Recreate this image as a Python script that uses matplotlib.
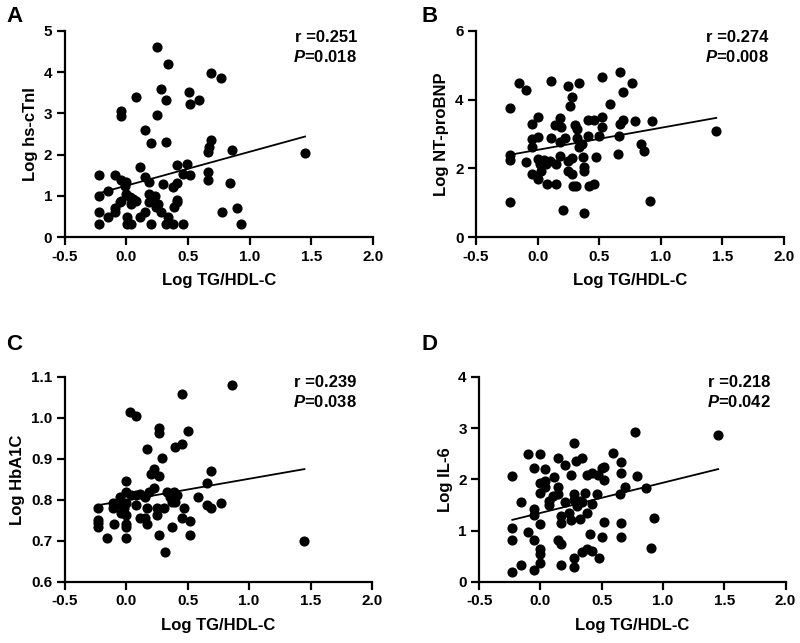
import matplotlib
matplotlib.use("Agg")
import matplotlib.pyplot as plt
import numpy as np

plt.rcParams['font.family'] = ['Liberation Sans', 'DejaVu Sans']
plt.rcParams['font.weight'] = 'bold'
plt.rcParams['mathtext.fontset'] = 'custom'
plt.rcParams['mathtext.it'] = 'Liberation Sans:bold:italic'
plt.rcParams['mathtext.rm'] = 'Liberation Sans:bold'

# panel A: hs-cTnI
a_x = [-0.22, -0.22, -0.22, -0.22, -0.15, -0.15, -0.095, -0.095, -0.095, -0.046,
       -0.046, -0.046, -0.046, -0.054, -0.014, 0.0, 0.0, 0.005, 0.005, 0.03,
       0.04, 0.04, 0.05, 0.08, 0.08, 0.11, 0.11, 0.15, 0.15, 0.15,
       0.18, 0.18, 0.18, 0.20, 0.20, 0.23, 0.24, 0.25, 0.25, 0.28,
       0.26, 0.28, 0.30, 0.32, 0.32, 0.32, 0.34, 0.34, 0.38, 0.38,
       0.39, 0.41, 0.41, 0.41, 0.41, 0.46, 0.46, 0.49, 0.51, 0.52,
       0.52, 0.59, 0.66, 0.66, 0.66, 0.67, 0.69, 0.69, 0.77, 0.78,
       0.84, 0.86, 0.90, 0.93, 1.45]
a_y = [1.52, 1.01, 0.61, 0.31, 1.12, 0.49, 1.50, 0.61, 0.71, 3.07,
       2.93, 1.38, 0.89, 0.85, 1.25, 1.05, 1.33, 0.49, 0.31, 0.97,
       0.31, 0.81, 0.93, 3.40, 0.89, 1.70, 0.49, 1.46, 2.59, 0.61,
       1.33, 1.05, 0.85, 2.28, 0.31, 1.01, 0.73, 4.61, 2.95, 3.58,
       0.81, 0.61, 1.28, 3.32, 2.31, 0.31, 4.19, 0.49, 1.21, 0.31,
       0.73, 0.85, 1.31, 1.74, 0.91, 1.54, 0.31, 1.78, 3.52, 3.22,
       1.50, 3.32, 1.38, 2.06, 1.58, 2.18, 3.98, 2.36, 3.87, 0.61,
       1.31, 2.12, 0.70, 0.31, 2.04]
a_line_x = [-0.22, 1.45]
a_line_y = [1.07, 2.44]

# panel B: NT-proBNP
b_x = [-0.22, -0.22, -0.22, -0.22, -0.15, -0.095, -0.095, -0.046, -0.046, -0.046,
       -0.046, 0.0, 0.0, 0.0, 0.0, 0.02, 0.03, 0.05, 0.07, 0.08,
       0.10, 0.11, 0.11, 0.14, 0.15, 0.15, 0.18, 0.18, 0.18, 0.19,
       0.21, 0.22, 0.25, 0.25, 0.25, 0.26, 0.28, 0.28, 0.28, 0.29,
       0.30, 0.31, 0.32, 0.32, 0.34, 0.34, 0.36, 0.37, 0.38, 0.38,
       0.38, 0.41, 0.41, 0.42, 0.46, 0.46, 0.47, 0.50, 0.52, 0.52,
       0.52, 0.59, 0.65, 0.66, 0.67, 0.67, 0.69, 0.69, 0.77, 0.79,
       0.84, 0.86, 0.91, 0.93, 1.45]
b_y = [3.77, 2.38, 2.25, 1.02, 4.47, 4.29, 2.20, 3.30, 2.86, 2.62,
       1.84, 3.51, 2.91, 2.28, 1.70, 2.12, 1.94, 2.25, 2.14, 1.55,
       2.23, 4.53, 2.89, 3.25, 1.55, 2.14, 3.48, 2.77, 2.35, 3.20,
       0.80, 2.89, 2.23, 1.94, 4.39, 3.81, 4.08, 1.84, 2.31, 1.48,
       3.25, 1.48, 3.16, 2.89, 4.47, 2.62, 2.72, 2.33, 2.04, 1.92,
       0.71, 2.93, 3.40, 1.50, 1.55, 3.40, 2.33, 2.93, 3.20, 3.51,
       4.66, 3.88, 2.41, 2.93, 3.30, 4.81, 3.40, 4.22, 4.47, 3.38,
       2.72, 2.52, 1.05, 3.38, 3.09]
b_line_x = [-0.22, 1.45]
b_line_y = [2.40, 3.47]

# panel C: HbA1C
c_x = [-0.23, -0.23, -0.23, -0.23, -0.16, -0.106, -0.106, -0.10, -0.054, -0.046,
       -0.046, -0.02, -0.005, -0.005, -0.005, -0.005, -0.005, -0.005, -0.005, 0.03,
       0.076, 0.035, 0.076, 0.076, 0.11, 0.11, 0.15, 0.15, 0.17, 0.17,
       0.17, 0.185, 0.20, 0.225, 0.225, 0.25, 0.25, 0.27, 0.27, 0.27,
       0.27, 0.29, 0.31, 0.315, 0.33, 0.36, 0.375, 0.375, 0.39, 0.40,
       0.40, 0.415, 0.456, 0.456, 0.47, 0.456, 0.50, 0.516, 0.516, 0.587,
       0.655, 0.66, 0.69, 0.69, 0.77, 0.86, 1.45]
c_y = [0.779, 0.752, 0.744, 0.733, 0.708, 0.793, 0.779, 0.741, 0.807, 0.787,
       0.767, 0.779, 0.846, 0.820, 0.793, 0.764, 0.742, 0.733, 0.708, 1.015,
       1.004, 0.811, 0.787, 0.811, 0.814, 0.757, 0.807, 0.757, 0.925, 0.779,
       0.741, 0.820, 0.863, 0.875, 0.828, 0.779, 0.763, 0.715, 0.974, 0.963,
       0.858, 0.903, 0.779, 0.672, 0.820, 0.807, 0.795, 0.733, 0.820, 0.929,
       0.795, 0.811, 1.058, 0.935, 0.779, 0.756, 0.968, 0.749, 0.715, 0.807,
       0.840, 0.787, 0.871, 0.779, 0.793, 1.080, 0.699]
c_line_x = [-0.23, 1.45]
c_line_y = [0.787, 0.875]

# panel D: IL-6
d_x = [-0.23, -0.23, -0.23, -0.23, -0.16, -0.16, -0.10, -0.10, -0.05, -0.05,
       -0.05, -0.05, -0.05, -0.005, -0.005, -0.005, -0.005, -0.005, -0.005, -0.005,
       0.035, 0.035, 0.035, 0.07, 0.07, 0.10, 0.11, 0.14, 0.14, 0.14,
       0.14, 0.17, 0.17, 0.17, 0.17, 0.20, 0.20, 0.23, 0.245, 0.245,
       0.27, 0.27, 0.27, 0.27, 0.27, 0.29, 0.30, 0.32, 0.32, 0.34,
       0.34, 0.34, 0.36, 0.38, 0.38, 0.38, 0.40, 0.42, 0.42, 0.42,
       0.46, 0.47, 0.48, 0.50, 0.52, 0.52, 0.52, 0.50, 0.59, 0.66,
       0.66, 0.65, 0.66, 0.66, 0.69, 0.77, 0.785, 0.86, 0.905, 0.93,
       1.45]
d_y = [2.07, 1.06, 0.82, 0.20, 0.33, 1.56, 2.49, 0.98, 2.23, 1.42,
       1.30, 0.82, 0.23, 2.49, 1.93, 1.73, 1.13, 0.65, 0.54, 0.36,
       2.21, 1.97, 1.86, 1.58, 1.50, 1.68, 2.05, 2.41, 1.85, 1.71,
       0.82, 0.73, 1.29, 1.14, 0.33, 2.28, 1.55, 1.35, 2.09, 1.21,
       2.70, 1.71, 1.59, 0.46, 0.30, 2.36, 1.48, 1.22, 1.58, 2.41,
       1.56, 0.59, 1.73, 2.09, 1.34, 0.65, 0.93, 2.13, 1.52, 0.60,
       1.71, 2.09, 0.47, 2.23, 2.25, 1.99, 1.17, 0.87, 2.51, 2.33,
       2.13, 1.71, 1.14, 0.88, 1.86, 2.93, 2.07, 1.84, 0.67, 1.24,
       2.87]
d_line_x = [-0.23, 1.45]
d_line_y = [1.21, 2.20]

panels = [
    ("A", a_x, a_y, a_line_x, a_line_y, "Log hs-cTnI", (0, 5), [0, 1, 2, 3, 4, 5], "r =0.251", "0.018"),
    ("B", b_x, b_y, b_line_x, b_line_y, "Log NT-proBNP", (0, 6), [0, 2, 4, 6], "r =0.274", "0.008"),
    ("C", c_x, c_y, c_line_x, c_line_y, "Log HbA1C", (0.6, 1.1), [0.6, 0.7, 0.8, 0.9, 1.0, 1.1], "r =0.239", "0.038"),
    ("D", d_x, d_y, d_line_x, d_line_y, "Log IL-6", (0, 4), [0, 1, 2, 3, 4], "r =0.218", "0.042"),
]
positions = [
    [0.081, 0.631, 0.385, 0.321],
    [0.595, 0.631, 0.385, 0.321],
    [0.081, 0.095, 0.384, 0.319],
    [0.599, 0.095, 0.383, 0.319],
]
letter_pos = [(0.008, 0.975), (0.527, 0.975), (0.008, 0.465), (0.527, 0.465)]

fig = plt.figure(figsize=(8, 6.43), dpi=100)
for (letter, x, y, lx, ly, ylab, ylim, yticks, rtxt, ptxt), pos, lp in zip(panels, positions, letter_pos):
    ax = fig.add_axes(pos)
    ax.plot(x, y, 'o', color='black', markersize=6.3, clip_on=False)
    ax.plot(lx, ly, '-', color='black', lw=1.3)
    ax.set_xlim(-0.5, 2.0)
    ax.set_ylim(*ylim)
    ax.set_xticks([-0.5, 0.0, 0.5, 1.0, 1.5, 2.0])
    ax.set_xticklabels(["-0.5", "0.0", "0.5", "1.0", "1.5", "2.0"])
    ax.set_yticks(yticks)
    if letter == "C":
        ax.set_yticklabels([f"{t:.1f}" for t in yticks])
    for s in ['top', 'right']:
        ax.spines[s].set_visible(False)
    for s in ['left', 'bottom']:
        ax.spines[s].set_linewidth(1.6)
    ax.tick_params(width=1.6, length=6, labelsize=11, pad=3)
    for lab in ax.get_xticklabels() + ax.get_yticklabels():
        lab.set_fontweight('bold')
    ax.set_xlabel("Log TG/HDL-C", fontsize=12, fontweight='bold', labelpad=7)
    ax.set_ylabel(ylab, fontsize=12, fontweight='bold', labelpad=4)
    ax.text(0.95, 0.97, rtxt, transform=ax.transAxes, ha='right', va='center',
            fontsize=12, fontweight='bold')
    ax.text(0.95, 0.875, r"$P$=" + ptxt, transform=ax.transAxes, ha='right', va='center',
            fontsize=12, fontweight='bold')
    fig.text(lp[0], lp[1], letter, fontsize=16, fontweight='bold', va='center', ha='left')

fig.savefig("out.png", dpi=100)
